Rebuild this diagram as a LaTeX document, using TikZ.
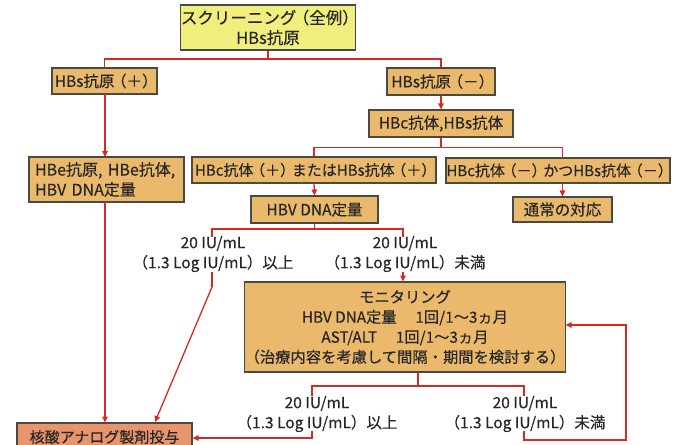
\documentclass[tikz,border=0pt]{standalone}
\usepackage{fontspec}
\setmainfont{Noto Sans CJK JP}[FakeBold=0.3]
\usetikzlibrary{arrows.meta}
\definecolor{boxfill}{HTML}{EBB96B}
\definecolor{topfill}{HTML}{F0EE7C}
\definecolor{nucfill}{HTML}{E8946C}
\definecolor{lnred}{HTML}{D42A22}
\definecolor{bord}{HTML}{4A4A40}
\newcommand\myLp{\kern-0.22em（}
\newcommand\myRp{）\kern-0.22em}
\begin{document}
\begin{tikzpicture}[x=1pt,y=-1pt,
  every node/.style={font=\fontsize{15}{20}\selectfont,text=black!85},
  box/.style={draw=bord,line width=1.1pt,fill=boxfill,inner sep=0pt,align=center},
  lbl/.style={inner sep=0pt,align=center,font=\fontsize{15.5}{20}\selectfont},
  ln/.style={draw=lnred,line width=1.3pt},
  arr/.style={ln,-{Triangle[length=6pt,width=5.5pt]}}]
\useasboundingbox (0,0) rectangle (674,444);
% boxes
\node[box,fill=topfill,minimum width=164pt,minimum height=45pt,font=\fontsize{16.5}{20}\selectfont] (top) at (268,27.5) {スクリーニング\myLp 全例\myRp\\HBs抗原};
\node[box,minimum width=105pt,minimum height=26pt,font=\fontsize{15.5}{20}\selectfont] (hbsp) at (104.5,81) {HBs抗原\myLp ＋\myRp};
\node[box,minimum width=108pt,minimum height=27pt,font=\fontsize{15.5}{20}\selectfont] (hbsm) at (441,81.5) {HBs抗原\myLp －\myRp};
\node[box,minimum width=144pt,minimum height=27pt,font=\fontsize{15.5}{20}\selectfont] (hbc) at (441,123.5) {HBc抗体,HBs抗体};
\node[box,minimum width=155pt,minimum height=45pt,align=left,text width=143pt,font=\fontsize{16}{20}\selectfont] (hbe) at (106.5,179.5) {HBe抗原, HBe抗体,\\HBV DNA定量};
\node[box,minimum width=244pt,minimum height=26pt] (hbcp) at (314,170) {HBc抗体\myLp ＋\myRp またはHBs抗体\myLp ＋\myRp};
\node[box,minimum width=224pt,minimum height=25pt] (hbcm) at (558,170.5) {HBc抗体\myLp －\myRp かつHBs抗体\myLp －\myRp};
\node[box,minimum width=99pt,minimum height=25pt,font=\fontsize{15.5}{20}\selectfont] (tsujo) at (562.5,209.5) {通常の対応};
\node[box,minimum width=127pt,minimum height=27pt,font=\fontsize{15.5}{20}\selectfont] (dna) at (314.5,209.5) {HBV DNA定量};
\node[box,minimum width=320pt,minimum height=90pt,font=\fontsize{15.3}{20}\selectfont] (mon) at (405,327) {モニタリング\\HBV DNA定量　 1回/1～3ヵ月\\AST/ALT　 1回/1～3ヵ月\\（治療内容を考慮して間隔・期間を検討する）};
\node[box,fill=nucfill,minimum width=175pt,minimum height=28pt] (nuc) at (104.5,437) {核酸アナログ製剤投与};
% labels
\node[lbl] (la) at (213,254) {20 IU/mL\\（1.3 Log IU/mL）以上};
\node[lbl] (lb) at (405,254) {20 IU/mL\\（1.3 Log IU/mL）未満};
\node[lbl] (lc) at (317,414) {20 IU/mL\\（1.3 Log IU/mL）以上};
\node[lbl] (ld) at (525,414) {20 IU/mL\\（1.3 Log IU/mL）未満};
% junctions
\coordinate (j1) at (268,59);
\coordinate (j2) at (441,147.5);
\coordinate (j3) at (314.5,229);
\coordinate (j4) at (418,386);
\coordinate (k1) at (212,287);
\coordinate (k2) at (626,440);
\coordinate (k3) at (626,325);
% connectors
\draw[ln] (top.south) -- (j1);
\draw[ln] (hbsp.north) |- (j1) -| (hbsm.north);
\draw[arr] (hbsm.south) -- (hbc.north);
\draw[ln] (hbc.south) -- (j2);
\draw[ln] (hbcp.north) |- (j2) -| (tsujo.north |- hbcm.north);
\draw[arr] (105,94) -- (105,157);
\draw[arr] (hbcp.south) -- (dna.north);
\draw[arr] (tsujo.north |- hbcm.south) -- (tsujo.north);
\draw[ln] (dna.south) -- (j3);
\draw[ln] (212,237) |- (j3) -| (403,237);
\draw[ln] (212,272) -- (k1);
\draw[arr] (k1) -- (155,422);
\draw[arr] (403,272) -- (403,281.5);
\draw[arr] (105,202) -- (105,422.5);
\draw[ln] (mon.south -| j4) -- (j4);
\draw[ln] (312,396) |- (j4) -| (524,396);
\draw[arr] (312,431) |- (nuc.east |- 0,438);
\draw[arr] (524,431) |- (k2) -- (k3) -- (565.5,325);
\end{tikzpicture}
\end{document}
